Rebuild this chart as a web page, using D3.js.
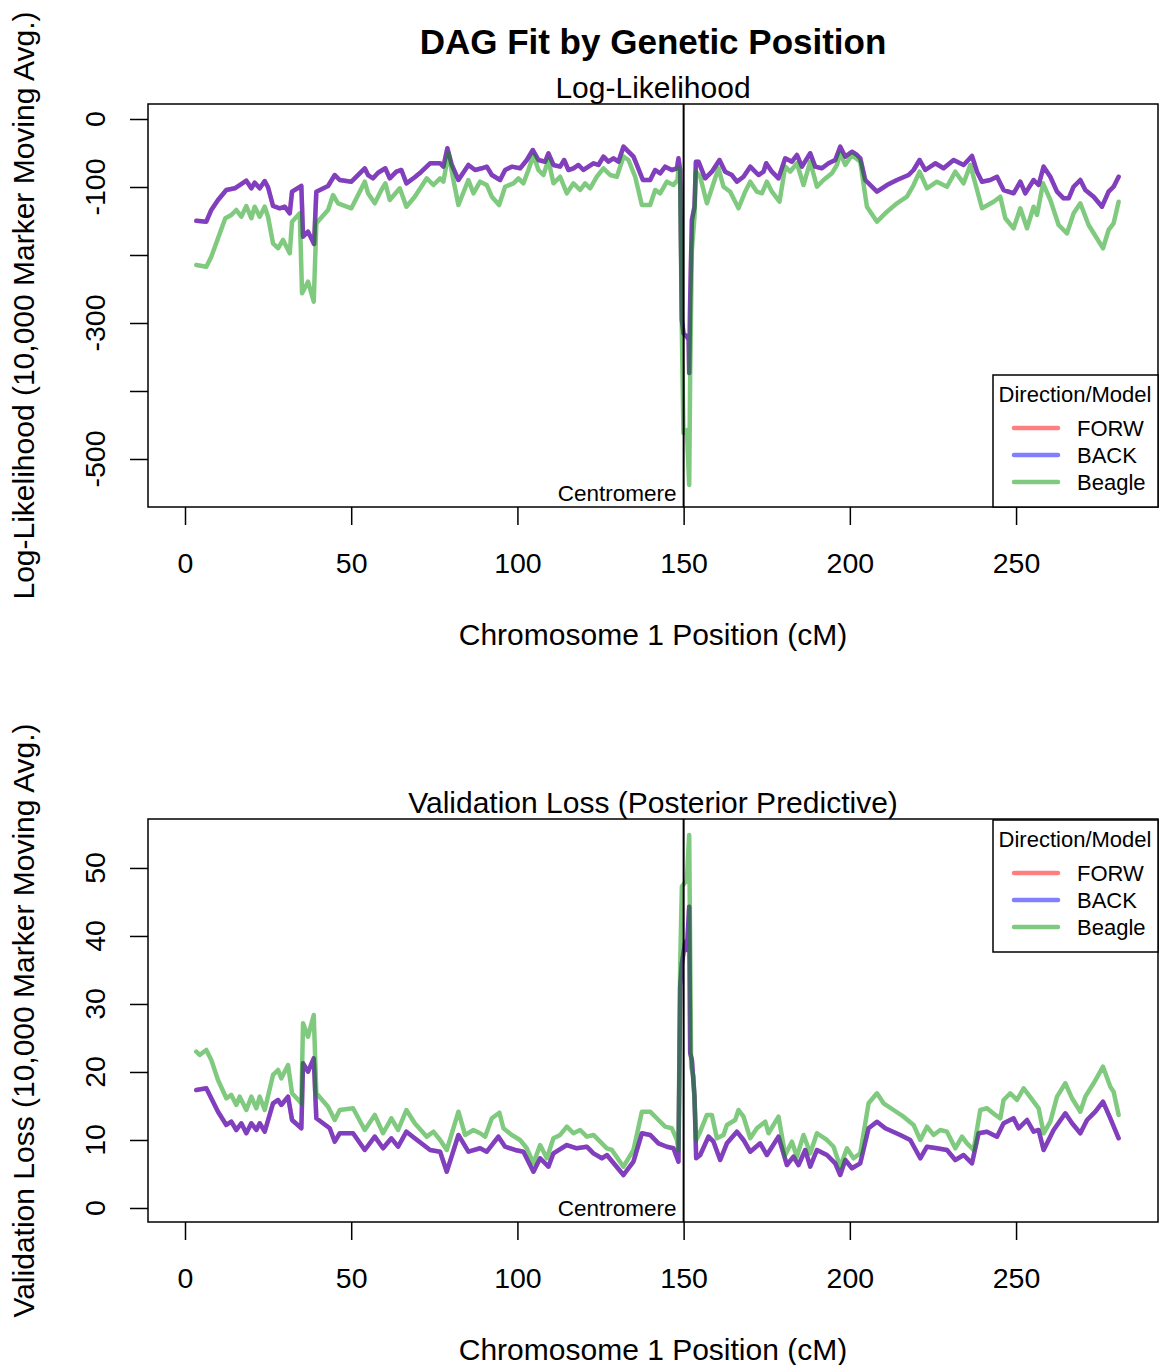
<!DOCTYPE html>
<html lang="en">
<head>
<meta charset="UTF-8">
<title>DAG Fit by Genetic Position</title>
<script src="https://d3js.org/d3.v7.min.js"></script>
<style>
  body { margin: 0; background: #fff; }
  svg text { font-family: "Liberation Sans", Arial, sans-serif; fill: #000; }
  .box { fill: none; stroke: #000; stroke-width: 1.5px; }
  .tick line { stroke: #000; stroke-width: 1.5px; }
  .series { fill: none; stroke-width: 4.5px; stroke-linejoin: round; stroke-linecap: round; }
</style>
</head>
<body>
<svg id="chart" width="1159" height="1365"></svg>
<script>
// ---- data ----
const xTicks = [0, 50, 100, 150, 200, 250];
const centromere = 150;
const legendNames = ["FORW", "BACK", "Beagle"];

// top panel: log-likelihood
const llTicks = [0, -100, -200, -300, -400, -500];
const llTickLabels = ["0", "-100", "", "-300", "", "-500"];
const llForwPos = [3.40,6.41,7.91,9.93,12.43,14.96,16.46,18.45,19.95,20.97,22.48,23.98,24.98,26.48,28.50,30.00,31.51,32.20,35.00,35.51,37.01,38.82,39.51,43.03,45.05,46.55,50.05,54.08,55.07,56.58,58.08,60.28,61.60,63.59,65.09,66.60,69.12,71.11,73.73,76.74,77.73,78.93,80.26,82.25,85.25,87.27,89.29,90.79,92.30,94.79,96.30,98.31,100.81,102.83,104.63,106.32,108.34,109.33,110.83,112.85,114.05,115.35,116.85,118.36,119.86,121.37,122.87,124.38,125.88,127.38,128.89,130.39,131.90,133.40,134.91,135.93,137.74,139.93,141.44,142.94,144.45,146.46,147.97,148.45,148.96,149.47,149.95,150.98,151.52,151.67,151.97,152.48,153.27,153.69,154.47,156.48,158.50,160.79,162.50,164.52,166.02,168.01,170.03,172.52,174.03,174.84,176.56,178.54,180.56,182.57,184.08,185.59,188.08,189.59,191.60,193.59,195.61,197.11,198.62,200.63,202.14,203.13,204.63,208.16,211.17,214.17,217.67,219.17,220.98,222.69,225.70,228.20,231.21,234.22,236.74,238.25,239.75,242.25,244.27,246.25,249.26,251.28,252.78,255.28,256.79,258.29,260.31,262.32,264.31,265.82,267.32,269.33,270.84,273.33,275.86,277.84,279.35,280.86];
const llForw = [-149.6,-151.0,-133.8,-119.1,-104.4,-101.9,-97.1,-90.7,-101.9,-93.7,-101.9,-91.2,-100.4,-127.9,-131.3,-129.0,-138.7,-106.9,-98.5,-173.1,-165.7,-183.8,-106.9,-98.5,-82.4,-89.7,-92.2,-72.5,-82.4,-87.2,-79.0,-72.5,-87.2,-77.5,-75.0,-94.6,-85.7,-77.5,-65.1,-65.1,-70.1,-43.1,-67.6,-89.7,-67.6,-75.0,-72.5,-70.1,-82.4,-89.7,-75.0,-70.1,-72.5,-60.3,-45.6,-60.3,-62.8,-50.4,-67.6,-70.1,-60.3,-75.0,-72.5,-67.6,-75.0,-70.1,-65.1,-67.6,-55.4,-62.8,-57.8,-62.8,-40.7,-48.1,-55.4,-67.6,-89.7,-89.7,-75.0,-79.9,-70.1,-75.0,-72.5,-57.8,-75.0,-295.6,-315.2,-320.1,-325.0,-373.5,-266.2,-148.5,-129.0,-62.8,-62.8,-87.2,-77.5,-60.3,-77.5,-82.4,-92.2,-84.9,-70.1,-82.4,-77.5,-65.1,-77.5,-87.2,-57.8,-62.8,-52.9,-70.1,-50.4,-70.1,-72.5,-65.1,-60.3,-40.7,-55.4,-48.1,-52.9,-57.8,-89.7,-106.9,-97.1,-89.7,-82.4,-75.0,-60.3,-75.0,-65.1,-72.5,-60.3,-67.6,-54.4,-77.5,-92.2,-89.7,-84.9,-104.4,-109.3,-92.2,-109.3,-89.7,-97.1,-70.1,-84.9,-106.9,-116.6,-116.6,-99.6,-89.7,-104.4,-114.3,-129.0,-106.9,-99.6,-84.9];
const llBack = llForw; // BACK sits exactly on FORW in the picture
const llBeaglePos = [3.40,6.41,7.91,9.93,12.13,13.93,15.44,16.94,18.45,19.95,20.97,22.48,23.98,24.98,26.48,27.99,29.49,31.51,32.20,34.52,35.21,37.01,38.73,39.51,43.03,44.54,46.04,50.05,54.08,55.07,57.09,59.07,60.28,61.60,64.61,66.60,69.12,72.74,74.72,76.74,77.73,79.24,80.74,82.25,85.25,86.76,88.77,90.79,92.30,94.49,96.30,98.80,100.30,101.81,103.31,104.82,106.32,107.82,109.33,110.83,112.85,114.87,116.85,118.87,120.37,121.88,123.89,125.88,127.90,129.91,131.90,133.40,135.42,137.44,139.93,141.44,142.94,144.96,146.94,148.15,148.45,148.96,149.47,149.95,150.98,151.67,151.97,152.48,153.27,153.69,154.98,157.00,158.50,160.49,161.99,164.01,166.51,168.52,170.03,172.04,173.55,175.05,176.56,178.84,180.56,182.06,184.08,186.07,188.08,190.10,192.09,194.61,196.12,197.11,198.62,200.63,203.13,205.14,208.16,211.17,214.17,217.18,219.17,220.98,223.20,226.21,229.22,231.72,234.22,236.23,239.75,243.24,245.26,246.76,249.26,251.28,253.30,255.28,256.30,258.11,260.31,262.81,265.33,267.32,269.33,271.83,276.16,277.84,279.35,280.86];
const llBeagle = [-214.7,-217.2,-202.5,-175.4,-146.0,-141.2,-133.8,-143.7,-127.9,-146.0,-129.0,-143.7,-129.0,-143.7,-182.8,-190.1,-177.9,-197.5,-151.0,-138.7,-256.3,-239.3,-268.7,-153.4,-133.8,-111.8,-124.0,-131.3,-92.2,-109.3,-124.0,-104.4,-94.6,-119.1,-101.9,-129.0,-114.3,-87.2,-97.1,-87.2,-92.2,-50.4,-89.7,-126.5,-89.7,-109.3,-92.2,-97.1,-114.3,-126.5,-99.6,-94.6,-87.2,-94.6,-75.0,-52.9,-75.0,-82.4,-60.3,-94.6,-84.9,-109.3,-94.6,-104.4,-94.6,-101.9,-84.9,-72.5,-82.4,-84.9,-55.4,-60.3,-84.9,-126.5,-126.5,-104.4,-109.3,-92.2,-97.1,-89.7,-72.5,-94.6,-314.7,-461.8,-457.4,-538.2,-373.5,-192.6,-143.7,-77.5,-84.9,-124.0,-101.9,-72.5,-99.6,-106.9,-131.3,-106.9,-92.2,-106.9,-109.3,-92.2,-106.9,-121.6,-70.1,-77.5,-65.1,-97.1,-62.8,-99.6,-89.7,-79.9,-67.6,-50.4,-67.6,-52.9,-62.8,-129.0,-151.0,-136.3,-124.0,-114.3,-97.1,-77.5,-101.9,-92.2,-99.6,-77.5,-94.6,-67.6,-131.3,-121.6,-114.3,-146.0,-160.7,-131.3,-160.7,-129.0,-141.2,-94.6,-119.1,-155.9,-168.1,-138.7,-124.0,-155.9,-190.1,-163.2,-153.4,-121.6];

// bottom panel: validation loss
const vlTicks = [0, 10, 20, 30, 40, 50];
const vlTickLabels = ["0", "10", "20", "30", "40", "50"];
const vlForwPos = [3.40,6.41,7.91,9.93,12.43,13.93,15.44,16.94,18.45,19.95,21.46,22.48,23.98,26.48,27.99,28.98,31.00,32.20,35.00,35.51,37.01,38.73,39.51,43.54,45.05,46.55,50.56,54.08,57.09,59.58,62.08,64.10,66.60,69.12,73.73,76.74,78.75,82.25,85.25,88.77,90.79,94.28,96.30,99.31,101.81,104.82,106.83,109.33,110.83,114.87,117.87,120.88,122.87,125.40,126.90,131.90,134.91,137.44,139.93,142.43,144.96,146.94,148.45,148.96,149.47,150.47,150.98,151.67,151.97,152.48,153.27,153.78,154.98,157.48,158.98,161.00,163.01,166.02,168.01,170.03,173.04,175.05,178.54,181.07,183.05,184.56,186.58,188.08,190.10,193.11,195.61,197.11,198.62,200.63,203.13,205.63,208.16,210.65,215.17,218.18,221.19,223.20,226.21,229.22,231.72,234.22,236.74,238.73,241.26,244.27,246.25,249.26,250.77,253.30,255.28,256.79,258.29,261.30,264.82,266.84,269.33,271.35,273.85,276.16,278.36,280.86];
const vlForw = [17.35,17.60,16.13,14.16,12.21,12.69,11.47,12.46,10.99,12.46,11.47,12.46,11.22,15.40,15.88,15.15,16.37,12.94,11.72,21.28,20.04,22.01,13.19,11.72,9.75,10.99,10.99,8.53,10.49,8.78,10.25,9.01,11.22,10.25,8.53,8.28,5.34,10.74,8.28,8.78,8.28,10.49,9.01,8.53,8.28,5.34,7.31,6.07,8.04,9.26,8.78,9.01,8.04,7.31,7.79,4.85,6.81,10.99,10.74,9.51,9.01,8.78,6.81,32.55,35.99,39.16,37.94,44.31,22.79,21.76,16.37,7.31,7.79,10.49,9.75,7.06,9.51,11.22,10.00,8.28,9.51,7.79,10.49,6.32,7.54,6.32,8.53,6.07,8.53,7.79,6.57,4.85,7.06,5.84,6.57,11.72,12.69,11.72,10.74,10.00,7.31,9.01,8.78,8.53,7.06,7.79,6.57,10.99,11.22,10.49,12.46,13.19,11.72,12.94,11.22,11.47,8.53,11.47,13.93,12.46,10.99,12.94,14.16,15.63,13.19,10.25];
const vlBack = vlForw; // BACK sits exactly on FORW in the picture
const vlBeaglePos = [3.40,4.42,6.41,7.91,9.93,12.43,13.93,15.44,16.46,18.45,19.95,21.46,22.48,23.98,26.48,27.99,28.98,31.00,32.20,35.00,35.51,37.01,38.73,39.51,43.03,45.05,46.55,50.56,54.08,57.09,59.58,62.08,64.10,66.60,69.12,72.74,74.72,76.74,78.75,82.25,84.26,86.76,88.77,90.28,92.30,94.58,95.79,98.31,100.81,102.83,104.82,106.83,108.85,110.83,112.85,114.87,116.85,118.87,120.88,122.87,124.89,126.90,128.41,131.90,134.91,137.44,139.93,142.43,144.45,146.46,147.97,148.45,148.96,149.47,150.98,151.67,152.27,152.96,153.78,154.98,157.00,158.50,160.00,161.99,163.01,165.51,166.51,168.01,170.03,172.04,174.54,175.53,178.54,180.56,182.57,184.08,186.07,188.08,190.10,193.11,195.10,197.11,199.13,201.11,203.13,205.63,208.16,210.14,213.15,216.16,219.17,221.19,223.20,225.19,227.20,229.22,231.72,233.74,235.24,237.22,239.24,241.26,243.76,245.26,246.25,248.27,250.29,252.27,253.78,256.79,258.29,260.31,262.32,264.82,266.84,269.33,270.84,273.33,276.16,278.36,279.35,280.86];
const vlBeagle = [22.99,22.50,23.24,21.76,18.82,16.13,16.62,15.15,16.37,14.41,16.37,14.66,16.37,14.41,19.56,20.29,19.07,21.03,16.87,15.40,27.16,25.19,28.38,16.87,14.90,12.94,14.41,14.66,11.47,13.68,10.99,13.19,11.47,14.41,12.46,10.49,11.22,10.00,8.53,14.16,10.74,11.47,10.99,10.49,13.19,14.01,11.72,10.74,10.00,8.78,6.57,9.26,7.31,10.25,10.74,11.96,10.99,11.47,10.49,10.74,9.75,8.78,8.53,6.07,8.53,14.16,14.16,12.94,11.96,11.72,10.00,8.53,35.49,47.25,48.24,54.85,20.78,19.31,10.00,11.22,13.68,13.68,10.25,10.74,12.21,12.94,14.41,13.43,10.25,11.72,12.69,10.99,13.43,7.79,9.75,7.54,10.74,8.04,10.99,10.00,9.01,6.07,8.78,7.31,8.04,15.40,16.87,15.40,14.41,13.43,12.21,10.00,11.96,10.74,11.47,11.22,8.78,10.49,9.51,8.53,14.41,14.66,13.68,13.19,15.88,16.87,15.88,17.60,16.62,14.66,10.99,12.69,16.37,18.34,16.13,14.16,16.37,18.34,20.78,17.84,17.10,13.68];

const colors = ["rgba(255,0,0,0.5)", "rgba(0,0,255,0.5)", "rgba(0,150,0,0.5)"];

// ---- layout ----
const svg = d3.select("#chart");
const plotLeft = 148, plotRight = 1158;
const x = d3.scaleLinear().domain([-11.13, 292.7]).range([plotLeft, plotRight]);

svg.append("text").attr("x", 653).attr("y", 54)
  .attr("text-anchor", "middle").style("font-size", "35px").style("font-weight", "bold")
  .text("DAG Fit by Genetic Position");

function drawPanel(cfg) {
  const y = d3.scaleLinear().domain(cfg.yDomain).range([cfg.bottom, cfg.top]);
  const g = svg.append("g");

  // series: FORW, BACK, Beagle
  const line = d3.line().x(d => x(d[0])).y(d => y(d[1]));
  cfg.series.forEach((s, i) => {
    const pts = s.pos.map((p, j) => [p, s.vals[j]]);
    g.append("path").datum(pts).attr("class", "series")
      .attr("stroke", colors[i]).attr("d", line);
  });

  // centromere
  g.append("line").attr("x1", x(centromere)).attr("x2", x(centromere))
    .attr("y1", cfg.top).attr("y2", cfg.bottom)
    .attr("stroke", "#000").attr("stroke-width", 2);
  g.append("text").attr("x", x(centromere) - 7).attr("y", cfg.bottom - 6)
    .attr("text-anchor", "end").style("font-size", "22.5px").text("Centromere");

  // box
  g.append("rect").attr("class", "box")
    .attr("x", plotLeft).attr("y", cfg.top)
    .attr("width", plotRight - plotLeft).attr("height", cfg.bottom - cfg.top);

  // x axis
  const xAxis = g.append("g").attr("transform", `translate(0,${cfg.bottom})`)
    .call(d3.axisBottom(x).tickValues(xTicks).tickSize(18).tickPadding(28).tickFormat(d3.format("d")));
  xAxis.select(".domain").remove();
  xAxis.selectAll("text").style("font-size", "28.5px").attr("font-family", null);

  // y axis (labels rotated, R style)
  const yAxis = g.append("g").attr("transform", `translate(${plotLeft},0)`)
    .call(d3.axisLeft(y).tickValues(cfg.yTicks).tickSize(18).tickFormat(""));
  yAxis.select(".domain").remove();
  g.selectAll(".ylab").data(cfg.yTicks).join("text")
    .attr("transform", (d) => `translate(105,${y(d)}) rotate(-90)`)
    .attr("text-anchor", "middle").style("font-size", "28.5px")
    .text((d, i) => cfg.yTickLabels[i]);

  // titles
  g.append("text").attr("x", 653).attr("y", cfg.top - 6)
    .attr("text-anchor", "middle").style("font-size", "30px").text(cfg.title);
  g.append("text").attr("x", 653).attr("y", cfg.bottom + 138)
    .attr("text-anchor", "middle").style("font-size", "30px").text("Chromosome 1 Position (cM)");
  g.append("text").attr("transform", `translate(34,${(cfg.top + cfg.bottom) / 2}) rotate(-90)`)
    .attr("text-anchor", "middle").style("font-size", "30px").text(cfg.yTitle);

  // legend
  const lg = g.append("g").attr("transform", `translate(993,${cfg.legendTop})`);
  lg.append("rect").attr("width", 165).attr("height", 132)
    .attr("fill", "#fff").attr("stroke", "#000").attr("stroke-width", 1.5);
  lg.append("text").attr("x", 82).attr("y", 27).attr("text-anchor", "middle")
    .style("font-size", "22px").text("Direction/Model");
  legendNames.forEach((name, i) => {
    const ly = 53 + i * 27;
    lg.append("line").attr("x1", 21).attr("x2", 65).attr("y1", ly).attr("y2", ly)
      .attr("stroke", colors[i]).attr("stroke-width", 4.5).attr("stroke-linecap", "round");
    lg.append("text").attr("x", 84).attr("y", ly + 8).style("font-size", "22px").text(name);
  });
}

drawPanel({
  top: 104, bottom: 507, yDomain: [-570.6, 22.06],
  yTicks: llTicks, yTickLabels: llTickLabels,
  title: "Log-Likelihood",
  yTitle: "Log-Likelihood (10,000 Marker Moving Avg.)",
  legendTop: 375,
  series: [
    { pos: llForwPos, vals: llForw },
    { pos: llForwPos, vals: llBack },
    { pos: llBeaglePos, vals: llBeagle }
  ]
});

drawPanel({
  top: 819, bottom: 1222, yDomain: [-2.06, 57.2],
  yTicks: vlTicks, yTickLabels: vlTickLabels,
  title: "Validation Loss (Posterior Predictive)",
  yTitle: "Validation Loss (10,000 Marker Moving Avg.)",
  legendTop: 820,
  series: [
    { pos: vlForwPos, vals: vlForw },
    { pos: vlForwPos, vals: vlBack },
    { pos: vlBeaglePos, vals: vlBeagle }
  ]
});
</script>
</body>
</html>
